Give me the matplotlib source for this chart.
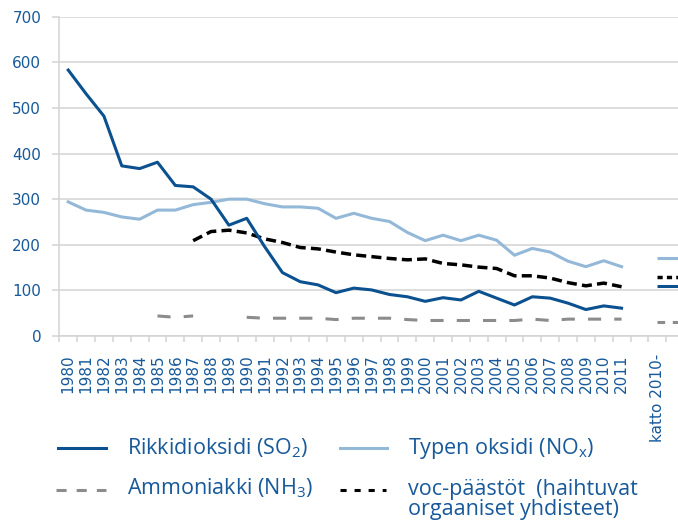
import numpy as np
import matplotlib
matplotlib.use("Agg")
import matplotlib.pyplot as plt
from matplotlib.lines import Line2D

plt.rcParams['font.family'] = ['Open Sans', 'DejaVu Sans']
plt.rcParams['mathtext.fontset'] = 'custom'
plt.rcParams['mathtext.rm'] = 'Open Sans'
plt.rcParams['mathtext.it'] = 'Open Sans:italic'

# --- data (kilotonnes) ---
years = [str(y) for y in range(1980, 2012)]
categories = years + ['', 'katto 2010-']

so2 = [583, 531, 482, 373, 367, 381, 330, 327, 300, 243,
       258, 196, 139, 119, 112, 95, 105, 101, 91, 86,
       76, 84, 79, 98, 83, 68, 86, 83, 72, 58,
       66, 61]
nox = [294, 276, 271, 261, 256, 276, 276, 288, 293, 300,
       300, 290, 283, 283, 280, 258, 269, 258, 251, 227,
       209, 221, 209, 221, 210, 177, 192, 184, 164, 152,
       165, 152]
nh3 = [None, None, None, None, None, 44, 41, 44, None, None,
       41, 39, 39, 39, 39, 36, 39, 39, 39, 36,
       34, 34, 34, 34, 34, 34, 37, 34, 37, 37,
       37, 37]
voc = [None, None, None, None, None, None, None, 209, 229, 232,
       226, 213, 205, 194, 191, 184, 178, 174, 170, 167,
       169, 159, 156, 151, 148, 132, 132, 127, 117, 110,
       116, 108]

# emission ceilings from 2010 on
katto_so2 = 110
katto_nox = 170
katto_nh3 = 31
katto_voc = 130

labels = ['Rikkidioksidi (SO$_\\mathrm{2}$)',
          'Typen oksidi (NO$_\\mathrm{x}$)',
          'Ammoniakki (NH$_\\mathrm{3}$)',
          'voc-päästöt  (haihtuvat\norgaaniset yhdisteet)']

# --- styles ---
C_SO2 = '#0b5190'
C_NOX = '#93b8d8'
C_NH3 = '#8c8c8c'
C_VOC = '#000000'
C_TXT = '#17599a'
C_GRID = '#d3d3d3'
TICK_FONT = 'DejaVu Sans'

W, H = 678, 523
fig = plt.figure(figsize=(W / 100, H / 100), dpi=100)
ax = fig.add_axes([59.3 / W, 187 / H, (W - 59.3) / W, (336 - 16.7) / H])

x = np.arange(len(years))
to_arr = lambda v: np.array([np.nan if a is None else a for a in v], dtype=float)

ax.plot(x, to_arr(nh3), color=C_NH3, lw=2.2, dashes=(4.3, 4.3), solid_capstyle='butt')
ax.plot(x, to_arr(voc), color=C_VOC, lw=2.5, dashes=(2.9, 1.5))
ax.plot(x, to_arr(nox), color=C_NOX, lw=2.2)
ax.plot(x, to_arr(so2), color=C_SO2, lw=2.2)

# ceilings as short flat pieces at the last category
k = categories.index('katto 2010-')
ax.hlines(katto_nox, k, k + 1.2, color=C_NOX, lw=2.2)
ax.hlines(katto_voc, k, k + 1.2, color=C_VOC, lw=2.5, linestyles=(0, (1.5, 1.2)))
ax.hlines(katto_so2, k, k + 1.2, color=C_SO2, lw=2.2)
ax.hlines(katto_nh3, k, k + 1.2, color=C_NH3, lw=2.2, linestyles=(0, (2.5, 2.5)))

ax.set_xlim(-0.5, -0.5 + (W - 59.3) / 17.85)
ax.set_ylim(0, 700)

ax.set_yticks(range(0, 701, 100))
ax.yaxis.grid(True, color=C_GRID, lw=1.1)
ax.set_axisbelow(True)
ax.tick_params(axis='y', colors=C_GRID, length=5, width=1.1,
               labelcolor=C_TXT, pad=8)

ax.set_xticks(np.arange(len(categories)))
ax.set_xticklabels(categories, rotation=90)
ax.set_xticks(np.arange(len(categories) + 1) - 0.5, minor=True)
ax.tick_params(axis='x', which='major', length=0,
               labelcolor=C_TXT, pad=13)
ax.tick_params(axis='x', which='minor', length=4, width=1.1, colors=C_GRID)

for t in ax.get_xticklabels() + ax.get_yticklabels():
    t.set_fontfamily(TICK_FONT)
    t.set_fontsize(11)

for s in ['top', 'right']:
    ax.spines[s].set_visible(False)
for s in ['left', 'bottom']:
    ax.spines[s].set_color(C_GRID)
    ax.spines[s].set_linewidth(1.1)

# --- legend, laid out in pixel units below the plot ---
lg = fig.add_axes([0, 0, 1, 1])
lg.set_xlim(0, W)
lg.set_ylim(H, 0)
lg.axis('off')
lg.add_line(Line2D([58, 106], [448, 448], color=C_SO2, lw=2.2))
lg.add_line(Line2D([340, 387], [448, 448], color=C_NOX, lw=2.2))
lg.add_line(Line2D([56, 106], [490, 490], color=C_NH3, lw=2.2, dashes=(3.3, 3.3)))
lg.add_line(Line2D([340, 386], [490, 490], color=C_VOC, lw=2.2, dashes=(2.0, 2.6)))
tk = dict(color=C_TXT, fontsize=15.5, va='baseline', ha='left')
lg.text(127, 454, labels[0], **tk)
lg.text(408, 454, labels[1], **tk)
lg.text(127, 494, labels[2], **tk)
lg.text(408, 515, labels[3], linespacing=0.95, **tk)

fig.savefig('out.png', dpi=100)
